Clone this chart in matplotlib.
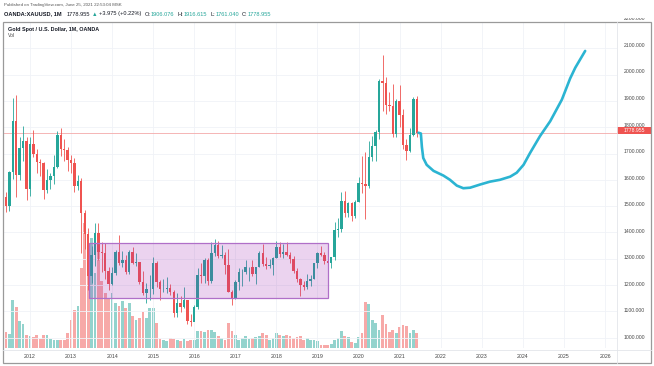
import numpy as np
import matplotlib.pyplot as plt
from matplotlib.patches import Rectangle
from matplotlib.lines import Line2D
from matplotlib.transforms import blended_transform_factory

plt.rcParams['font.family'] = ['Liberation Sans', 'DejaVu Sans']

# monthly XAUUSD candles, Jun 2011 .. Jun 2021 (month index 0 = Jun 2011)
opens = [1536, 1500, 1628, 1825, 1620, 1722, 1746,
         1564, 1738, 1697, 1669, 1664, 1561, 1598, 1615, 1648, 1772, 1719, 1712,
         1675, 1663, 1578, 1595, 1472, 1393, 1234, 1313, 1396, 1327, 1323, 1253,
         1202, 1244, 1326, 1284, 1296, 1250, 1327, 1282, 1287, 1210, 1171, 1183,
         1184, 1283, 1213, 1183, 1184, 1190, 1172, 1095, 1133, 1115, 1142, 1065,
         1061, 1118, 1238, 1233, 1294, 1215, 1322, 1351, 1309, 1316, 1277, 1173,
         1151, 1211, 1249, 1249, 1268, 1268, 1242, 1269, 1322, 1280, 1271, 1275,
         1303, 1345, 1318, 1325, 1315, 1299, 1253, 1224, 1201, 1192, 1215, 1222,
         1282, 1321, 1313, 1292, 1284, 1305, 1409, 1413, 1520, 1472, 1513, 1464,
         1517, 1589, 1585, 1577, 1687, 1730, 1781, 1975, 1968, 1886, 1879, 1776,
         1898, 1847, 1734, 1708, 1769, 1906]
highs = [1553, 1632, 1912, 1921, 1764, 1804, 1763,
         1764, 1791, 1718, 1679, 1669, 1640, 1627, 1693, 1787, 1796, 1755, 1724,
         1694, 1683, 1617, 1605, 1487, 1417, 1348, 1434, 1434, 1362, 1361, 1267,
         1270, 1333, 1392, 1331, 1315, 1332, 1345, 1322, 1288, 1255, 1208, 1239,
         1307, 1290, 1219, 1224, 1232, 1205, 1181, 1170, 1157, 1191, 1143, 1088,
         1123, 1263, 1283, 1303, 1304, 1362, 1375, 1367, 1352, 1326, 1338, 1180,
         1220, 1264, 1261, 1296, 1270, 1296, 1270, 1331, 1357, 1306, 1299, 1307,
         1366, 1362, 1356, 1365, 1326, 1309, 1266, 1227, 1214, 1243, 1237, 1285,
         1326, 1347, 1324, 1310, 1306, 1439, 1453, 1555, 1557, 1517, 1516, 1523,
         1611, 1689, 1704, 1748, 1765, 1789, 1984, 2075, 1992, 1933, 1966, 1906,
         1959, 1871, 1755, 1798, 1913, 1917]
lows = [1478, 1480, 1603, 1535, 1600, 1670, 1523,
        1540, 1688, 1627, 1613, 1527, 1548, 1564, 1583, 1646, 1692, 1672, 1635,
        1626, 1555, 1562, 1321, 1338, 1180, 1208, 1272, 1295, 1251, 1221, 1182,
        1200, 1239, 1277, 1268, 1240, 1240, 1281, 1273, 1205, 1161, 1131, 1142,
        1167, 1191, 1142, 1172, 1170, 1162, 1077, 1080, 1098, 1112, 1053, 1046,
        1062, 1110, 1208, 1208, 1200, 1208, 1310, 1301, 1302, 1241, 1172, 1123,
        1145, 1180, 1195, 1240, 1214, 1236, 1205, 1267, 1271, 1260, 1264, 1237,
        1302, 1307, 1303, 1310, 1282, 1246, 1211, 1160, 1180, 1183, 1196, 1221,
        1265, 1310, 1281, 1266, 1266, 1296, 1382, 1400, 1459, 1458, 1445, 1453,
        1517, 1548, 1451, 1567, 1670, 1671, 1757, 1863, 1849, 1860, 1764, 1764,
        1802, 1717, 1677, 1705, 1766, 1761]
closes = [1500, 1628, 1825, 1620, 1722, 1746, 1564,
          1738, 1697, 1669, 1664, 1561, 1598, 1615, 1648, 1772, 1719, 1712, 1675,
          1663, 1578, 1595, 1472, 1393, 1234, 1313, 1396, 1327, 1323, 1253, 1202,
          1244, 1326, 1284, 1296, 1250, 1327, 1282, 1287, 1210, 1171, 1183, 1184,
          1283, 1213, 1183, 1184, 1190, 1172, 1095, 1133, 1115, 1142, 1065, 1061,
          1118, 1238, 1233, 1294, 1215, 1322, 1351, 1309, 1316, 1277, 1173, 1151,
          1211, 1249, 1249, 1268, 1268, 1242, 1269, 1322, 1280, 1271, 1275, 1303,
          1345, 1318, 1325, 1315, 1299, 1253, 1224, 1201, 1192, 1215, 1222, 1282,
          1321, 1313, 1292, 1284, 1305, 1409, 1413, 1520, 1472, 1513, 1464, 1517,
          1589, 1585, 1577, 1687, 1730, 1781, 1975, 1968, 1886, 1879, 1776, 1898,
          1847, 1734, 1708, 1769, 1906, 1779]
# volume, relative units
volume = [16, 14, 48, 41, 27, 24, 13,
          12, 11, 13, 9, 13, 13, 9, 8, 8, 8, 8, 15,
          28, 38, 42, 80, 125, 85, 110, 75, 115, 67, 55, 50,
          55, 45, 42, 47, 40, 45, 32, 28, 30, 36, 30, 40,
          40, 25, 9, 8, 7, 10, 9, 8, 7, 9, 7, 8,
          8, 17, 17, 16, 18, 18, 16, 12, 10, 8, 25, 17,
          13, 8, 10, 12, 9, 10, 11, 12, 15, 13, 8, 10,
          15, 13, 12, 13, 12, 10, 11, 12, 8, 10, 8, 8,
          7, 3, 3, 3, 4, 8, 10, 17, 12, 11, 6, 5,
          11, 15, 46, 44, 28, 25, 18, 33, 24, 16, 18, 15,
          21, 23, 22, 15, 18, 15]

years = list(range(2012, 2027))
year_month = [7 + 12 * (y - 2012) for y in years]   # Jan of each year
price_ticks = list(range(1000, 2300, 100))
last_price = 1778.955

# drawn range box (month index / price)
box_start, box_end = 24.3, 94.1
box_low, box_high = 1149, 1360

# hand-drawn projection path (month index / price)
proj_month = [120.5, 121.2, 121.5, 121.9, 122.9, 124.9, 127.8, 129.7, 131.7, 133.6,
              135.6, 138.5, 141.4, 144.3, 147.3, 149.2, 151.2, 153.1, 156.0, 159.0,
              162.4, 164.8, 166.3, 169.2]
proj_price = [1779, 1776, 1725, 1683, 1657, 1634, 1616, 1600, 1578, 1568,
              1570, 1582, 1593, 1600, 1612, 1627, 1657, 1702, 1766, 1823,
              1905, 1985, 2026, 2090]

header_parts = [('OANDA:XAUUSD, 1M', 'dark', 'bold', 4.5), ('1778.955', 'dark', 'normal', 2),
                ('\u25b2', 'teal', 'normal', 2), ('+3.975 (+0.22%)', 'dark', 'normal', 3),
                ('O:', 'dark', 'normal', 0.4), ('1906.076', 'teal', 'normal', 3),
                ('H:', 'dark', 'normal', 0.4), ('1916.615', 'teal', 'normal', 3),
                ('L:', 'dark', 'normal', 0.4), ('1761.040', 'teal', 'normal', 3),
                ('C:', 'dark', 'normal', 0.4), ('1778.955', 'teal', 'normal', 0)]

W, H = 654, 366
UP, DOWN = '#26a69a', '#ef5350'
UP_V, DOWN_V = '#93d3cd', '#f7a9a8'
DARK, TEAL = '#131722', '#26a69a'

fig = plt.figure(figsize=(W / 100, H / 100), dpi=100)
rect = [4 / W, (H - 348) / H, 613 / W, 326 / H]
vax = fig.add_axes(rect)
ax = fig.add_axes(rect, sharex=vax)
ax.patch.set_alpha(0)

idx = np.arange(len(closes))
o = np.array(opens, float)
c = np.array(closes, float)
up = c >= o

# volume
vax.bar(idx, volume, width=0.8, color=np.where(up, UP_V, DOWN_V), linewidth=0)
vax.set_ylim(0, 326)
vax.axis('off')

# candles
col = np.where(up, UP, DOWN)
ax.vlines(idx, lows, highs, colors=col, linewidth=0.6, zorder=3)
ax.bar(idx, np.maximum(np.abs(c - o), 2), bottom=np.minimum(o, c), width=0.7,
       color=col, linewidth=0, zorder=4)

ax.axhline(last_price, color='#f4aaa9', linewidth=0.6, zorder=2)

ax.add_patch(Rectangle((box_start, box_low), box_end - box_start, box_high - box_low,
                       facecolor=(156 / 255, 39 / 255, 176 / 255, 0.2),
                       edgecolor='#b06fc8', linewidth=0.9, zorder=5))

ax.plot(proj_month, proj_price, color='#2bb4d2', linewidth=1.9,
        solid_capstyle='round', zorder=6)

ax.set_xlim(-0.58, 178.5)
ax.set_ylim(960.5, 2188)
ax.set_xticks(year_month)
ax.set_xticklabels([str(y) for y in years])
ax.set_yticks(price_ticks)
ax.grid(True, color='#f0f2f7', linewidth=0.6, zorder=0)
ax.set_axisbelow(True)
ax.tick_params(length=0, labelleft=False, labelsize=3.8, labelcolor='#444444', pad=4.5)
for s in ax.spines.values():
    s.set_visible(False)

# price scale (top label is cut by the frame, as in the original)
pax = fig.add_axes([617 / W, (H - 348) / H, 34 / W, 330 / H])
pax.set_ylim(960.5, 960.5 + (2188 - 960.5) * 330 / 326)
pax.axis('off')
tr = blended_transform_factory(pax.transAxes, pax.transData)
for p in price_ticks:
    pax.text(0.52, p, f'{p:.3f}', transform=tr, ha='center', va='center',
             fontsize=3.7, color='#4a4a4a', clip_on=True)
pax.add_patch(Rectangle((0.0, last_price - 12.5), 1.0, 25, transform=tr,
                        facecolor=DOWN, edgecolor='none'))
pax.text(0.52, last_price, f'{last_price:.3f}', transform=tr, ha='center',
         va='center', fontsize=3.7, color='white')

# frame
fig.add_artist(Rectangle((3 / W, (H - 363) / H), 648 / W, (363 - 22) / H,
                         transform=fig.transFigure, fill=False,
                         edgecolor='#9a9a9a', linewidth=0.9))
fig.add_artist(Line2D([617 / W, 617 / W], [(H - 363) / H, (H - 22) / H],
                      transform=fig.transFigure, color='#e3e5ea', linewidth=0.6))
fig.add_artist(Line2D([3 / W, 651 / W], [(H - 350) / H, (H - 350) / H],
                      transform=fig.transFigure, color='#e3e5ea', linewidth=0.6))

# header
fig.text(4 / W, 1 - 5 / H, 'Published on TradingView.com, June 25, 2021 22:53:04 MSK',
         fontsize=3.2, color='#555555', va='center')
renderer = fig.canvas.get_renderer()
x = 4.0
for s, tone, weight, gap in header_parts:
    t = fig.text(x / W, 1 - 14 / H, s, fontsize=4.1, color=DARK if tone == 'dark' else TEAL,
                 fontweight=weight, va='center')
    x += t.get_window_extent(renderer).width + gap

fig.text(8 / W, 1 - 29 / H, 'Gold Spot / U.S. Dollar, 1M, OANDA', fontsize=3.9,
         color=DARK, fontweight='bold', va='center')
fig.text(8 / W, 1 - 35.5 / H, 'Vol', fontsize=3.6, color='#444444', va='center')

fig.savefig('out.png', dpi=100, facecolor='white')
